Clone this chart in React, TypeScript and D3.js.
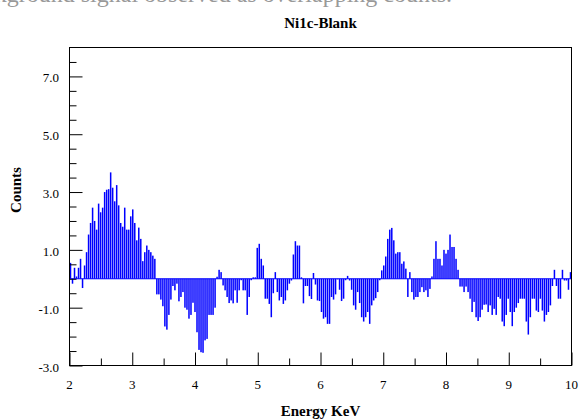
import React, { useEffect, useRef } from 'react';
import * as d3 from 'd3';

// net counts per energy bin (bin width 0.032 KeV, starting at 2 KeV)
const counts = [
  0.55, -0.17, 0.38, 0.08, 0.38, 0.69, -0.32, 0.46, 0.92, 1.53,
  1.93, 2.46, 2.0, 1.7, 2.6, 2.3, 2.46, 3.0, 3.08, 3.1,
  3.68, 3.15, 2.68, 3.24, 2.54, 1.93, 1.8, 2.46, 1.7, 1.7,
  2.16, 2.4, 1.93, 1.33, 1.77, 1.38, 0.61, 0.92, 1.15, 1.0,
  0.92, 0.8, 0.69, -0.54, -0.54, -0.72, -0.95, -1.65, -1.76, -1.25,
  -0.72, -0.25, -0.4, -0.17, -0.78, -0.63, -0.46, -1.0, -1.07, -1.38,
  -1.25, -0.83, -1.15, -1.85, -2.46, -2.54, -2.56, -2.13, -2.08, -1.25,
  -1.25, -1.25, -1.0, 0.07, 0.31, 0.23, -0.23, -0.4, -0.63, -0.84,
  -0.75, -0.85, -0.4, -0.83, -0.4, -0.05, -0.4, -0.4, -1.25, -0.63,
  -0.05, 0.05, 0.05, 1.07, 1.21, 0.69, 0.46, -0.69, -0.69, -0.87,
  -1.33, -0.5, 0.23, -0.46, -0.75, -0.63, -0.87, -0.75, -0.4, -0.17,
  -0.06, 0.84, 1.3, 1.15, 1.15, 0.05, -0.85, -0.25, -0.25, -0.6,
  -0.7, 0.2, -0.2, -0.75, -0.77, -1.15, -1.38, -1.33, -1.56, -1.56,
  -0.63, -0.72, -0.54, -0.02, -0.38, -0.77, -0.69, -0.05, 0.1, -0.06,
  -0.38, -0.92, -1.07, -0.46, -0.84, -1.33, -1.48, -1.33, -1.15, -1.56,
  -0.92, -0.75, -0.67, -0.46, -0.05, 0.29, 0.46, 0.77, 1.38, 1.7,
  1.76, 1.33, 0.87, 0.92, 0.92, 0.52, 0.6, 0.35, -0.63, 0.23,
  -0.46, -0.72, -0.63, -0.63, -0.46, -0.29, -0.46, -0.4, -0.63, -0.35,
  0.08, 0.69, 1.3, 0.69, 0.69, 0.46, 1.0, 0.87, 1.0, 1.53,
  1.1, 1.1, 0.69, 0.31, -0.27, -0.27, -0.46, -0.27, -0.46, -0.69,
  -1.15, -0.8, -1.33, -1.46, -1.33, -1.07, -0.9, -0.89, -1.15, -0.92,
  -1.25, -1.04, -1.25, -0.63, -0.69, -1.48, -1.64, -1.25, -0.69, -1.15,
  -1.64, -1.15, -1.0, -0.84, -0.69, -0.69, -0.69, -1.48, -1.93, -1.33,
  -0.69, -0.69, -1.1, -1.15, -0.69, -1.1, -1.48, -1.25, -1.15, -0.92,
  -0.25, 0.31, -0.25, -0.69, -0.69, 0.31, -0.06, -0.06, -0.38, 0.23,
];
const binStart = 2;
const binWidth = 0.032;

const yMajorTicks = [-3, -1, 1, 3, 5, 7];
const yTickLabels = ['-3.0', '-1.0', '1.0', '3.0', '5.0', '7.0'];
const xMajorTicks = [2, 3, 4, 5, 6, 7, 8, 9, 10];
const xTickLabels = ['2', '3', '4', '5', '6', '7', '8', '9', '10'];

const App = () => {
  const ref = useRef<SVGSVGElement>(null);

  useEffect(() => {
    const svg = d3.select(ref.current);
    svg.selectAll('*').remove();

    const left = 69.5, right = 571.5, top = 47.5, bottom = 365.5;
    const font = 'Liberation Serif, Times New Roman, Times, serif';

    const x = d3.scaleLinear().domain([2, 10]).range([left, right]);
    const y = d3.scaleLinear().domain([-3, 8]).range([bottom, top]);

    // faint cut-off caption line at the very top
    svg.append('text')
      .attr('x', 452).attr('y', 2)
      .attr('text-anchor', 'end')
      .style('font-family', font).style('font-size', '24px')
      .attr('fill', '#999')
      .text('al background signal observed as overlapping counts.');

    // bars
    svg.append('g')
      .selectAll('rect')
      .data(counts)
      .enter()
      .append('rect')
      .attr('x', (d, i) => x(binStart + i * binWidth) + 0.25)
      .attr('width', (d, i) => x(binStart + (i + 1) * binWidth) - x(binStart + i * binWidth) - 0.5)
      .attr('y', (d) => Math.min(y(d), y(0)))
      .attr('height', (d) => Math.abs(y(d) - y(0)))
      .attr('fill', '#0000ff');

    // zero line
    svg.append('line')
      .attr('x1', left).attr('x2', right)
      .attr('y1', y(0)).attr('y2', y(0))
      .attr('stroke', '#0000ff').attr('stroke-width', 1);

    // frame
    svg.append('rect')
      .attr('x', left).attr('y', top)
      .attr('width', right - left).attr('height', bottom - top)
      .attr('fill', 'none').attr('stroke', '#000');

    // x ticks (pointing up)
    svg.append('g')
      .attr('transform', `translate(0,${bottom})`)
      .call(d3.axisBottom(x).tickValues(xMajorTicks).tickSize(-13).tickSizeOuter(0).tickFormat(() => ''))
      .call((g) => g.select('.domain').remove());
    svg.append('g')
      .attr('transform', `translate(0,${bottom})`)
      .call(d3.axisBottom(x).tickValues(d3.range(2.5, 10, 1)).tickSize(-7).tickSizeOuter(0).tickFormat(() => ''))
      .call((g) => g.select('.domain').remove());

    // y ticks (pointing right)
    svg.append('g')
      .attr('transform', `translate(${left},0)`)
      .call(d3.axisLeft(y).tickValues(yMajorTicks).tickSize(-13).tickSizeOuter(0).tickFormat(() => ''))
      .call((g) => g.select('.domain').remove());
    svg.append('g')
      .attr('transform', `translate(${left},0)`)
      .call(d3.axisLeft(y).tickValues(d3.range(-2.5, 8, 0.5).filter((v) => !yMajorTicks.includes(v))).tickSize(-7).tickSizeOuter(0).tickFormat(() => ''))
      .call((g) => g.select('.domain').remove());

    // tick labels
    svg.append('g')
      .selectAll('text')
      .data(yMajorTicks)
      .enter()
      .append('text')
      .attr('x', 59)
      .attr('y', (d) => y(d) + 6)
      .attr('text-anchor', 'end')
      .style('font-family', font).style('font-size', '13px')
      .text((d, i) => yTickLabels[i]);

    svg.append('g')
      .selectAll('text')
      .data(xMajorTicks)
      .enter()
      .append('text')
      .attr('x', (d) => x(d))
      .attr('y', 389)
      .attr('text-anchor', 'middle')
      .style('font-family', font).style('font-size', '13px')
      .text((d, i) => xTickLabels[i]);

    // titles
    svg.append('text')
      .attr('x', (left + right) / 2).attr('y', 28)
      .attr('text-anchor', 'middle')
      .style('font-family', font).style('font-size', '15px').style('font-weight', 'bold')
      .text('Ni1c-Blank');

    svg.append('text')
      .attr('x', (left + right) / 2).attr('y', 416)
      .attr('text-anchor', 'middle')
      .style('font-family', font).style('font-size', '15px').style('font-weight', 'bold')
      .text('Energy KeV');

    svg.append('text')
      .attr('transform', 'translate(21,190) rotate(-90)')
      .attr('text-anchor', 'middle')
      .style('font-family', font).style('font-size', '15px').style('font-weight', 'bold')
      .text('Counts');
  }, []);

  return (
    <svg
      ref={ref}
      width={579}
      height={419}
      style={{ position: 'absolute', left: 0, top: 0, background: '#fff' }}
    />
  );
};

export default App;
